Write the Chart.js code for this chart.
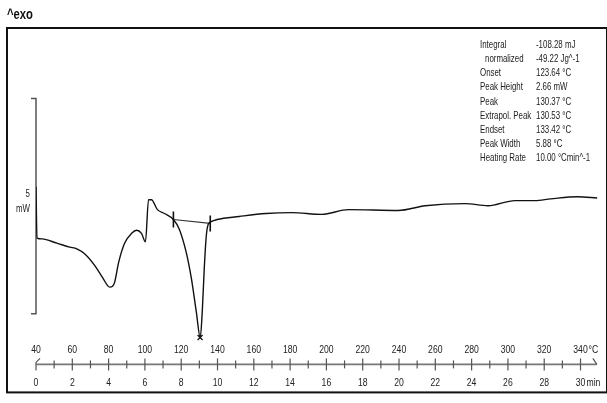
<!DOCTYPE html>
<html>
<head>
<meta charset="utf-8">
<script src="https://cdn.jsdelivr.net/npm/chart.js@4.4.1/dist/chart.umd.min.js"></script>
<style>
  body { margin: 0; background: #fff; }
  canvas { display: block; }
</style>
</head>
<body>
<canvas id="dsc" width="607" height="403"></canvas>
<script>
// DSC curve, heat flow in mW (offset scale), temperature in degC
const temps = [40.0, 40.55, 43.3, 51.5, 58.6, 62.5, 66.9, 72.4, 76.7, 80.6, 82.2, 83.3, 85.5, 88.8,
  92.7, 95.4, 98.1, 100.3, 102.0, 103.6, 106.9, 110.8, 115.7, 119.0, 122.8, 125.6, 128.3, 130.5,
  131.6, 132.7, 133.8, 134.9, 137.1, 139.8, 151.9, 166.7, 181.0, 197.4, 212.2, 239.6, 254.4,
  276.4, 289.0, 303.8, 314.8, 323.6, 338.4, 349.3];
const heatFlow = [2.95, 1.76, 1.74, 1.64, 1.55, 1.51, 1.39, 1.12, 0.84, 0.62, 0.64, 0.73, 1.19, 1.64,
  1.87, 1.94, 1.87, 1.67, 2.65, 2.65, 2.42, 2.33, 2.19, 1.96, 1.42, 0.82, 0.05, -0.55,
  0.05, 1.05, 1.80, 2.08, 2.15, 2.19, 2.26, 2.33, 2.35, 2.31, 2.42, 2.40, 2.51,
  2.56, 2.51, 2.63, 2.63, 2.67, 2.72, 2.69];

// integration limits and peak
const limitTemps = [115.7, 136.0];
const limitVals = [2.19, 2.10];
const peakTemps = [130.4];
const peakVals = [-0.55];

// axis ticks
const tempTicks = [40, 60, 80, 100, 120, 140, 160, 180, 200, 220, 240, 260, 280, 300, 320, 340];
const minuteTicks = [0, 2, 4, 6, 8, 10, 12, 14, 16, 18, 20, 22, 24, 26, 28, 30];
const scaleBar = [0, 5];

// evaluation table
const tableLabels = ['Integral', 'normalized', 'Onset', 'Peak Height', 'Peak', 'Extrapol. Peak', 'Endset', 'Peak Width', 'Heating Rate'];
const tableValues = ['-108.28 mJ', '-49.22 Jg^-1', '123.64 °C', '2.66 mW', '130.37 °C', '130.53 °C', '133.42 °C', '5.88 °C', '10.00 °Cmin^-1'];

const FONT = "'Liberation Sans', Arial, sans-serif";
const SQUEEZE = 0.75; // the original uses a narrow font

const toXY = (xs, ys) => xs.map((x, i) => ({ x: x, y: ys[i] }));

// narrow text: horizontal squeeze around the anchor point
function ntext(ctx, s, x, y, align, k) {
  ctx.save();
  ctx.translate(x, y);
  ctx.scale(k || SQUEEZE, 1);
  ctx.textAlign = align || 'left';
  ctx.fillText(s, 0, 0);
  ctx.restore();
}

const decor = {
  id: 'decor',
  beforeDatasetsDraw(chart) {
    const ctx = chart.ctx;
    const x = chart.scales.x, xm = chart.scales.xm, y = chart.scales.y;
    const ca = chart.chartArea;
    ctx.save();

    // frame
    ctx.strokeStyle = '#111';
    ctx.lineWidth = 2;
    ctx.strokeRect(7, ca.top, chart.width - 7, ca.bottom - ca.top - 1);

    // ^exo
    ctx.fillStyle = '#111';
    ctx.font = "bold 15px " + FONT;
    ctx.textBaseline = 'middle';
    ntext(ctx, '^exo', 7, 15, 'left', 0.75);

    // scale bar (5 mW)
    const bx = x.getPixelForValue(40);
    const b0 = y.getPixelForValue(scaleBar[0]);
    const b1 = y.getPixelForValue(scaleBar[1]);
    ctx.strokeStyle = '#555';
    ctx.lineWidth = 1.5;
    ctx.beginPath();
    ctx.moveTo(bx - 5, b1); ctx.lineTo(bx, b1); ctx.lineTo(bx, b0); ctx.lineTo(bx - 5, b0);
    ctx.stroke();
    ctx.fillStyle = '#222';
    ctx.font = '10.5px ' + FONT;
    ntext(ctx, String(scaleBar[1]), 30, 194, 'right');
    ntext(ctx, 'mW', 30, 209, 'right');

    // bottom temperature / time axis
    const ay = ca.bottom - 29;
    const xEnd = x.getPixelForValue(349);
    ctx.strokeStyle = '#777';
    ctx.lineWidth = 1.6;
    ctx.beginPath();
    ctx.moveTo(bx, ay); ctx.lineTo(xEnd, ay);
    ctx.stroke();
    ctx.lineWidth = 1.2;
    ctx.strokeStyle = '#555';
    for (let t = 50; t <= 340; t += 10) {
      const px = x.getPixelForValue(t);
      const major = t % 20 === 0;
      ctx.beginPath();
      ctx.moveTo(px, ay - (major ? 6 : 4));
      ctx.lineTo(px, ay + (major ? 6 : 4));
      ctx.stroke();
    }
    // start marker and end arrow
    ctx.beginPath();
    ctx.moveTo(bx, ay + 6); ctx.lineTo(bx, ay - 2); ctx.lineTo(bx + 4, ay - 6);
    ctx.moveTo(xEnd - 4, ay - 6); ctx.lineTo(xEnd, ay);
    ctx.stroke();

    ctx.fillStyle = '#222';
    ctx.font = '11.5px ' + FONT;
    tempTicks.forEach(t => ntext(ctx, String(t), x.getPixelForValue(t), ay - 15, 'center'));
    minuteTicks.forEach(m => ntext(ctx, String(m), xm.getPixelForValue(m), ay + 18, 'center'));
    ntext(ctx, '°C', x.getPixelForValue(340) + 8, ay - 15, 'left');
    ntext(ctx, 'min', xm.getPixelForValue(30) + 6, ay + 18, 'left');

    // evaluation table
    ctx.font = '10.5px ' + FONT;
    tableLabels.forEach((lab, i) => {
      const ty = 45 + i * 14.2;
      ntext(ctx, lab, i === 1 ? 485 : 480, ty, 'left');
      ntext(ctx, tableValues[i], 536, ty, 'left');
    });

    ctx.restore();
  }
};

new Chart(document.getElementById('dsc'), {
  type: 'line',
  data: {
    datasets: [{
      data: toXY(temps, heatFlow),
      borderColor: '#111',
      borderWidth: 1.4,
      pointRadius: 0,
      cubicInterpolationMode: 'monotone'
    }, {
      data: toXY(limitTemps, limitVals),
      borderColor: '#333',
      borderWidth: 1.2,
      pointStyle: 'line',
      rotation: 90,
      pointRadius: 8,
      pointBorderColor: '#111',
      pointBorderWidth: 1.6
    }, {
      data: toXY(peakTemps, peakVals),
      showLine: false,
      pointStyle: 'crossRot',
      pointRadius: 3.5,
      pointBorderColor: '#111',
      pointBorderWidth: 1.3
    }]
  },
  options: {
    responsive: false,
    animation: false,
    layout: { padding: { left: 36, right: 7, top: 28, bottom: 3 } },
    plugins: {
      legend: { display: false },
      tooltip: { enabled: false }
    },
    scales: {
      x: { type: 'linear', min: 40, max: 349.3, display: false },
      xm: { type: 'linear', axis: 'x', min: 0, max: 30.93, display: false },
      y: { type: 'linear', min: -1.85, max: 6.64, display: false }
    }
  },
  plugins: [decor]
});
</script>
</body>
</html>
